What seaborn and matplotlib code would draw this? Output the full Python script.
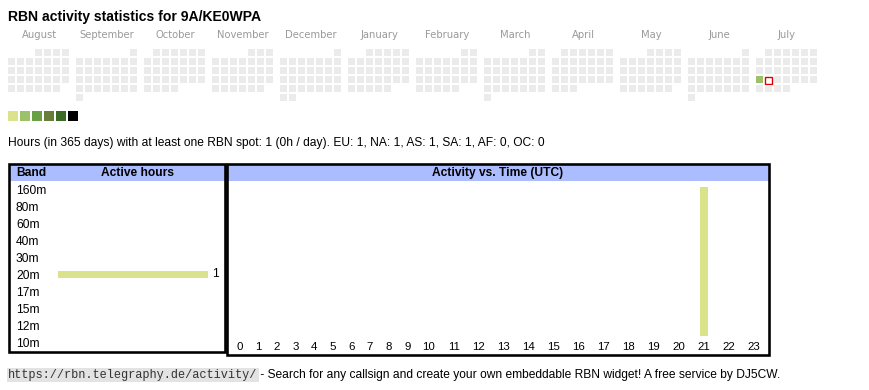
import calendar
import datetime as dt

import matplotlib
matplotlib.use("Agg")
import matplotlib.pyplot as plt
from matplotlib.patches import Rectangle
import numpy as np
import pandas as pd
import seaborn as sns

# ---------------- data ----------------
title = "RBN activity statistics for 9A/KE0WPA"
month_names = ["August", "September", "October", "November", "December", "January",
               "February", "March", "April", "May", "June", "July"]
month_years = [2024, 2024, 2024, 2024, 2024, 2025, 2025, 2025, 2025, 2025, 2025, 2025]
month_numbers = [8, 9, 10, 11, 12, 1, 2, 3, 4, 5, 6, 7]
active_days = ["2025-07-21"]
active_levels = [2]
today = "2025-07-22"
level_colors = ["#dbe28c", "#9dc168", "#69a046", "#6a7c3a", "#3c6a27", "#000000"]

summary_text = ("Hours (in 365 days) with at least one RBN spot: 1 (0h / day). "
                "EU: 1, NA: 1, AS: 1, SA: 1, AF: 0, OC: 0")

bands = ["160m", "80m", "60m", "40m", "30m", "20m", "17m", "15m", "12m", "10m"]
band_hours = [0, 0, 0, 0, 0, 1, 0, 0, 0, 0]

hours = [0, 1, 2, 3, 4, 5, 6, 7, 8, 9, 10, 11,
         12, 13, 14, 15, 16, 17, 18, 19, 20, 21, 22, 23]
hour_activity = [0, 0, 0, 0, 0, 0, 0, 0, 0, 0, 0, 0,
                 0, 0, 0, 0, 0, 0, 0, 0, 0, 1, 0, 0]

footer_url = "https://rbn.telegraphy.de/activity/"
footer_text = " - Search for any callsign and create your own embeddable RBN widget! A free service by DJ5CW."

# ---------------- style ----------------
sns.set_theme(style="white")
plt.rcParams["font.family"] = ["Liberation Sans", "DejaVu Sans"]

W, H = 870, 390
fig = plt.figure(figsize=(W / 100, H / 100), dpi=100)
fig.patch.set_facecolor("white")


def px_rect(x0, y0, x1, y1):
    return [x0 / W, 1 - y1 / H, (x1 - x0) / W, (y1 - y0) / H]


PX = 72 / 100  # points per pixel

bg = fig.add_axes([0, 0, 1, 1])
bg.set_xlim(0, W)
bg.set_ylim(H, 0)
bg.axis("off")
bg.set_zorder(0)

# title
bg.text(8, 16.5, title, fontsize=14 * PX, fontweight="bold", va="center", ha="left",
        color="black")

# ---------------- calendar ----------------
CELL, PITCH, BLOCK, X0, Y0 = 7, 9, 68, 8, 49
active_map = {d: lv for d, lv in zip(active_days, active_levels)}
for m, (name, yr, mn) in enumerate(zip(month_names, month_years, month_numbers)):
    bx = X0 + m * BLOCK
    bg.text(bx + 31, 35.5, name, family="DejaVu Sans", fontsize=10 * PX,
            color="#9a9a9a", ha="center", va="center")
    first = dt.date(yr, mn, 1)
    offset = first.weekday()
    for d in range(1, calendar.monthrange(yr, mn)[1] + 1):
        row, col = divmod(offset + d - 1, 7)
        key = dt.date(yr, mn, d).isoformat()
        x, y = bx + col * PITCH, Y0 + row * PITCH
        if key == today:
            bg.add_patch(Rectangle((x + 0.5, y + 0.5), CELL, CELL, facecolor="white",
                                   edgecolor="#e00000", linewidth=1.4 * PX))
        elif key in active_map:
            bg.add_patch(Rectangle((x, y), CELL, CELL,
                                   facecolor=level_colors[active_map[key] - 1],
                                   edgecolor="none"))
        else:
            bg.add_patch(Rectangle((x, y), CELL, CELL, facecolor="#ebebeb",
                                   edgecolor="none"))

# level legend
for i, c in enumerate(level_colors):
    bg.add_patch(Rectangle((8 + i * 12, 111), 10, 10, facecolor=c, edgecolor="none"))

bg.text(8, 143, summary_text, fontsize=12 * PX, va="center", ha="left", color="black")

# ---------------- tables ----------------
header_blue = "#abbcff"
bar_color = "#dbe28c"
bw = 2.6
# header fills
bg.add_patch(Rectangle((9, 165), 216, 16, facecolor=header_blue, edgecolor="none"))
bg.add_patch(Rectangle((227, 165), 542, 16, facecolor=header_blue, edgecolor="none"))
# borders
bg.add_patch(Rectangle((8 + bw / 2, 163 + bw / 2), 226 - 8 - bw, 353 - 163 - bw,
                       fill=False, edgecolor="black", linewidth=bw * PX))
bg.add_patch(Rectangle((226 + bw / 2, 163 + bw / 2), 770 - 226 - bw, 356 - 163 - bw,
                       fill=False, edgecolor="black", linewidth=bw * PX))

hdr = dict(fontsize=12 * PX, fontweight="bold", va="center", color="black")
bg.text(16, 173, "Band", ha="left", **hdr)
bg.text(138, 173, "Active hours", ha="center", **hdr)
bg.text(498, 173, "Activity vs. Time (UTC)", ha="center", **hdr)

# left: active hours per band
df_band = pd.DataFrame({"band": bands, "hours": band_hours})
axl = fig.add_axes(px_rect(58, 189.3 - 8.5, 208, 342.3 + 8.5))
axl.patch.set_alpha(0)
sns.barplot(data=df_band, y="band", x="hours", order=bands, orient="h",
            color=bar_color, width=7 / 17, linewidth=0, saturation=1,
            errorbar=None, ax=axl)
axl.set_xlim(0, max(band_hours))
axl.set_xlabel("")
axl.set_ylabel("")
axl.set_xticks([])
axl.tick_params(axis="y", length=0, pad=42 * PX, labelsize=12 * PX, labelcolor="black")
for t in axl.get_yticklabels():
    t.set_ha("left")
for s in axl.spines.values():
    s.set_visible(False)
axl.bar_label(axl.containers[0], labels=[str(v) if v else "" for v in band_hours],
              padding=4 * PX, fontsize=12 * PX, color="black")

# right: activity vs. time (HTML-table-like column widths)
col_widths = [12.4 + 6.2 * len(str(h)) if h < 10 else 12.5 + 6.25 * len(str(h))
              for h in hours]
edges = 230.5 + np.concatenate([[0], np.cumsum(col_widths)])
centers = (edges[:-1] + edges[1:]) / 2
df_hour = pd.DataFrame({"pos": centers, "activity": hour_activity})
axr = fig.add_axes(px_rect(228, 187, 768, 336))
axr.patch.set_alpha(0)
min_gap = np.min(np.diff(centers))
sns.barplot(data=df_hour, x="pos", y="activity", native_scale=True, orient="v",
            color=bar_color, width=8 / min_gap, linewidth=0, saturation=1,
            errorbar=None, ax=axr)
axr.set_xlim(228, 768)
axr.set_ylim(0, max(hour_activity))
axr.set_xticks(centers, labels=[str(h) for h in hours])
axr.set_yticks([])
axr.set_xlabel("")
axr.set_ylabel("")
axr.tick_params(axis="x", length=0, pad=6.5 * PX, labelsize=11.5 * PX, labelcolor="black")
for s in axr.spines.values():
    s.set_visible(False)

# ---------------- footer ----------------
t1 = bg.text(8, 375, footer_url, family="Liberation Mono", fontsize=11.85 * PX,
             color="#333333", va="center", ha="left",
             bbox=dict(boxstyle="square,pad=0.12", facecolor="#e3e3e3", edgecolor="none"))
bg.annotate(footer_text, xy=(1, 0.5), xycoords=t1, va="center", ha="left",
            fontsize=12 * PX, color="black")

fig.savefig("out.png", dpi=100, facecolor="white")
